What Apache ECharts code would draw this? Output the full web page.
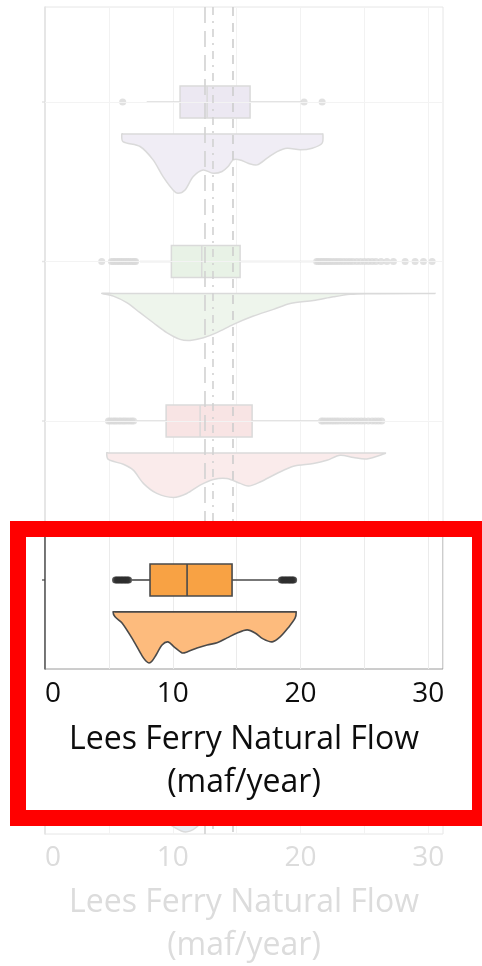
<!DOCTYPE html>
<html>
<head>
<meta charset="utf-8">
<script src="https://cdn.jsdelivr.net/npm/echarts@6/dist/echarts.min.js"></script>
<style>
html,body{margin:0;padding:0;background:#fff;}
#chart{width:482px;height:966px;}
</style>
</head>
<body>
<div id="chart"></div>
<script>
// ---------- data ----------
const xTicks = [0, 10, 20, 30];
const refLines = [12.53, 13.16, 14.72];

// box stats: [lower whisker, Q1, median, Q3, upper whisker]
const boxPurple = [7.96, 10.57, 12.69, 16.05, 20.1];
const boxGreen  = [7.44, 9.89, 12.27, 15.27, 20.99];
const boxRed    = [7.18, 9.48, 12.14, 16.21, 21.4];
const boxOrange = [6.81, 8.22, 11.12, 14.64, 18.25];

// outliers
const outPurple = [6.08, 20.28, 21.69];
const outGreen  = [4.44, 5.2, 5.35, 5.5, 5.66, 5.8, 5.95, 6.1, 6.26, 6.4, 6.55, 6.7, 6.86, 7.0, 7.09,
  21.26, 21.4, 21.55, 21.7, 21.85, 22.0, 22.15, 22.3, 22.5, 22.7, 22.9, 23.1, 23.35, 23.6, 23.85,
  24.1, 24.4, 24.7, 25.0, 25.3, 25.6, 25.9, 26.3, 26.76, 27.27, 28.19, 28.97, 29.62, 30.3];
const outRed    = [4.97, 5.12, 5.3, 5.45, 5.6, 5.78, 5.92, 6.1, 6.25, 6.42, 6.6, 6.78, 6.93,
  21.65, 21.8, 22.0, 22.2, 22.4, 22.6, 22.8, 23.0, 23.25, 23.5, 23.75, 24.0, 24.25, 24.5, 24.75,
  25.0, 25.3, 25.6, 25.85, 26.1, 26.35];
const outOrange = [5.52, 5.63, 5.74, 5.86, 5.97, 6.08, 6.2, 6.31, 6.43, 6.54,
  18.5, 18.6, 18.71, 18.82, 18.93, 19.04, 19.15, 19.25, 19.36, 19.46];

// half-violin profiles: [x, depth below the violin's top edge (row units)]
const violinPurple = [[6.01,0],[6.1,0.048],[7.44,0.079],[8.46,0.163],[9.24,0.268],[10.02,0.351],[10.41,0.372],
  [10.96,0.351],[11.59,0.268],[12.37,0.226],[13.16,0.247],[13.86,0.236],[14.33,0.205],[14.72,0.163],
  [15.27,0.163],[15.9,0.184],[16.6,0.194],[17.38,0.152],[18.17,0.111],[18.95,0.09],[19.97,0.1],
  [20.91,0.09],[21.69,0.058],[21.75,0]];
const violinGreen = [[4.44,0],[5.35,0.017],[6.4,0.058],[7.44,0.121],[8.48,0.184],[9.53,0.246],[10.57,0.288],
  [11.35,0.295],[12.4,0.278],[13.45,0.246],[14.75,0.194],[16.31,0.142],[17.88,0.1],[19.19,0.063],
  [21.01,0.044],[22.58,0.021],[23.88,0.006],[25.19,0.002],[30.54,0]];
const violinRed = [[4.83,0],[4.96,0.041],[6.13,0.071],[6.91,0.108],[7.7,0.191],[8.75,0.254],[10.05,0.279],
  [11.1,0.254],[12.14,0.202],[13.18,0.166],[14.23,0.16],[15.27,0.191],[15.92,0.208],[16.84,0.182],
  [18.14,0.129],[19.44,0.083],[21.01,0.066],[22.06,0.046],[23.1,0.014],[24.15,0.029],[25.19,0.038],
  [26.62,0.004],[26.65,0]];
const violinOrange = [[5.33,0],[5.48,0.031],[6.03,0.069],[6.89,0.175],[7.6,0.276],[7.88,0.306],[8.14,0.32],
  [8.4,0.306],[8.68,0.272],[9.16,0.207],[9.63,0.188],[10.1,0.219],[10.73,0.257],[11.12,0.251],[11.9,0.226],
  [12.69,0.207],[13.47,0.194],[14.25,0.163],[15.04,0.132],[15.82,0.113],[16.44,0.132],[17.07,0.169],
  [17.78,0.188],[18.4,0.157],[19.03,0.1],[19.58,0.038],[19.66,0]];
// fifth (blue) row: only the bottom tip shows below the highlight frame
const violinBlue = [[5.0,0],[7.0,0.1],[9.0,0.28],[10.2,0.35],[11.0,0.376],[11.8,0.35],[13.0,0.25],
  [15.0,0.12],[20.0,0.03],[24.0,0]];

// ---------- styling ----------
const FONT = 'Open Sans';
const BOX_H = 0.1, VIOLIN_TOP = 0.2;

const faded = {
  boxFill: ['#ECE8F2', '#E8F2E6', '#F8E4E4', '#FCE9D6'],
  violinFill: ['#F0EDF5', '#EEF5EC', '#FAEBEB', '#FDEEDD', '#E8EDF3'],
  stroke: '#dadada', dot: '#d9d9d9', text: '#dcdcdc', split: '#f2f2f2', frame: '#e6e6e6',
  ref: ['#d2d2d2', '#d2d2d2', '#cdcdcd'], row: '#f3f3f3'
};
const bright = {
  boxFill: '#F8A244', violinFill: '#FDBB7D', stroke: '#4a4a4a', dot: '#2e2e2e',
  text: '#0d0d0d', split: '#ebebeb', frame: '#9a9a9a', ref: ['#8a8a8a', '#444444', '#333333'], row: '#e6e6e6'
};

function boxRenderer(fills, stroke, lw) {
  return function (params, api) {
    const row = api.value(0);
    const wlo = api.value(1), q1 = api.value(2), med = api.value(3), q3 = api.value(4), whi = api.value(5);
    const a = api.coord([q1, row - BOX_H]);
    const b = api.coord([q3, row + BOX_H]);
    const w1 = api.coord([wlo, row]);
    const w2 = api.coord([whi, row]);
    const m = api.coord([med, row]);
    const top = Math.min(a[1], b[1]), h = Math.abs(b[1] - a[1]);
    const ls = { stroke: stroke, lineWidth: lw };
    return { type: 'group', children: [
      { type: 'line', shape: { x1: w1[0], y1: w1[1], x2: a[0], y2: w1[1] }, style: ls },
      { type: 'line', shape: { x1: b[0], y1: w2[1], x2: w2[0], y2: w2[1] }, style: ls },
      { type: 'rect', shape: { x: a[0], y: top, width: b[0] - a[0], height: h },
        style: { fill: fills[params.dataIndex % fills.length], stroke: stroke, lineWidth: lw } },
      { type: 'line', shape: { x1: m[0], y1: top, x2: m[0], y2: top + h }, style: ls }
    ]};
  };
}

function violinRenderer(profiles, fills, stroke, lw) {
  return function (params, api) {
    const row = api.value(0);
    const prof = profiles[params.dataIndex];
    const base = row + VIOLIN_TOP;
    const pts = prof.map(p => api.coord([p[0], base + p[1]]));
    for (let i = prof.length - 2; i >= 1; i--) pts.push(api.coord([prof[i][0], base]));
    return { type: 'polygon', shape: { points: pts, smooth: 0.3 },
      style: { fill: fills[params.dataIndex % fills.length], stroke: stroke, lineWidth: lw } };
  };
}

function scatterData(list, row) { return list.map(v => [v, row]); }

function xAxisFor(gridIndex, c, margin, nameGap, zl) {
  return {
    type: 'value', gridIndex: gridIndex, min: 0, max: 31.15, interval: 5, zlevel: zl,
    axisLine: { show: false }, axisTick: { show: false },
    splitLine: { show: true, lineStyle: { color: c.split, width: 1 } },
    axisLabel: { color: c.text, fontSize: 28, fontFamily: FONT, margin: margin, alignMinLabel: 'left',
      formatter: v => (xTicks.indexOf(Math.round(v * 100) / 100) >= 0 ? String(v) : '') },
    name: 'Lees Ferry Natural Flow\n(maf/year)', nameLocation: 'middle', nameGap: nameGap,
    nameTextStyle: { color: c.text, fontSize: 32, fontFamily: FONT, lineHeight: 43 }
  };
}

const bgRows = [0, 1, 2, 3];
const bgBoxes = [boxPurple, boxGreen, boxRed, boxOrange];
const bgOut = [outPurple, outGreen, outRed, outOrange];
const bgViolins = [violinPurple, violinGreen, violinRed, violinOrange, violinBlue];

const option = {
  backgroundColor: '#ffffff',
  animation: false,
  grid: [
    { left: 45, right: 39, top: 7, bottom: 132, show: true, borderColor: faded.frame, borderWidth: 1,
      containLabel: false, outerBoundsMode: 'none', zlevel: 0 },
    { left: 45, right: 39, top: 529, bottom: 297, show: true, borderColor: bright.frame, borderWidth: 1,
      containLabel: false, outerBoundsMode: 'none', zlevel: 2 }
  ],
  xAxis: [ xAxisFor(0, faded, 10, 47, 0), xAxisFor(1, bright, 11, 49, 2) ],
  yAxis: [
    { type: 'value', gridIndex: 0, inverse: true, min: -0.5956, max: 4.589, zlevel: 0,
      axisLine: { show: true, lineStyle: { color: '#e2e2e2', width: 1.5 } }, axisTick: { show: false },
      axisLabel: { show: false }, splitLine: { show: false } },
    { type: 'value', gridIndex: 1, inverse: true, min: -0.3197, max: 0.558, zlevel: 2,
      axisLine: { show: true, lineStyle: { color: '#555555', width: 1.5 } }, axisTick: { show: false },
      axisLabel: { show: false }, splitLine: { show: false } }
  ],
  graphic: [
    { type: 'rect', zlevel: 1, z: 1, shape: { x: 26, y: 537, width: 446, height: 273 },
      style: { fill: '#ffffff' }, silent: true },
    { type: 'rect', zlevel: 3, z: 1, shape: { x: 18, y: 529, width: 462, height: 289 },
      style: { fill: 'none', stroke: '#ff0000', lineWidth: 16 }, silent: true }
  ],
  series: [
    // ---------- faded background chart ----------
    { type: 'scatter', xAxisIndex: 0, yAxisIndex: 0, zlevel: 0, z: 1, clip: false,
      symbol: 'rect', symbolSize: [3, 1.5], symbolOffset: [-1.5, 0],
      itemStyle: { color: '#dddddd' }, data: bgRows.concat([4]).map(r => [0, r]),
      markLine: { silent: true, symbol: 'none', label: { show: false },
        lineStyle: { color: faded.row, width: 1, type: 'solid' },
        data: bgRows.concat([4]).map(r => ({ yAxis: r })) } },
    { type: 'custom', xAxisIndex: 0, yAxisIndex: 0, zlevel: 0, z: 2,
      renderItem: violinRenderer(bgViolins, faded.violinFill, faded.stroke, 1.5),
      data: [[0, violinPurple[0][0]], [1, violinGreen[0][0]], [2, violinRed[0][0]], [3, violinOrange[0][0]], [4, violinBlue[0][0]]] },
    { type: 'custom', xAxisIndex: 0, yAxisIndex: 0, zlevel: 0, z: 3,
      renderItem: boxRenderer(faded.boxFill, faded.stroke, 1.5),
      encode: { x: [1, 2, 3, 4, 5], y: 0 },
      data: bgBoxes.map((b, i) => [bgRows[i]].concat(b)) },
    { type: 'scatter', xAxisIndex: 0, yAxisIndex: 0, zlevel: 0, z: 4, symbolSize: 7,
      itemStyle: { color: faded.dot },
      data: [].concat(...bgOut.map((o, i) => scatterData(o, bgRows[i]))),
      markLine: { silent: true, symbol: 'none', label: { show: false },
        data: refLines.map((v, i) => ({ xAxis: v, lineStyle: { color: faded.ref[i], width: 1.6,
          type: i === 0 ? [16, 8] : (i === 1 ? [8, 6, 2, 6] : [9, 7]) } })) } },

    // ---------- highlighted panel ----------
    { type: 'scatter', xAxisIndex: 1, yAxisIndex: 1, zlevel: 2, z: 1, clip: false,
      symbol: 'rect', symbolSize: [3, 1.5], symbolOffset: [-1.5, 0],
      itemStyle: { color: '#444444' }, data: [[0, 0]],
      markLine: { silent: true, symbol: 'none', label: { show: false },
        lineStyle: { color: bright.row, width: 1.2, type: 'solid' }, data: [{ yAxis: 0 }] } },
    { type: 'custom', xAxisIndex: 1, yAxisIndex: 1, zlevel: 2, z: 2,
      renderItem: violinRenderer([violinOrange], [bright.violinFill], bright.stroke, 1.6),
      data: [[0, violinOrange[0][0]]] },
    { type: 'custom', xAxisIndex: 1, yAxisIndex: 1, zlevel: 2, z: 3,
      renderItem: boxRenderer([bright.boxFill], bright.stroke, 1.6),
      encode: { x: [1, 2, 3, 4, 5], y: 0 },
      data: [[0].concat(boxOrange)] },
    { type: 'scatter', xAxisIndex: 1, yAxisIndex: 1, zlevel: 2, z: 4, symbolSize: 7,
      itemStyle: { color: bright.dot },
      data: scatterData(outOrange, 0),
      markLine: { silent: true, symbol: 'none', label: { show: false },
        data: refLines.map((v, i) => ({ xAxis: v, lineStyle: { color: bright.ref[i], width: 1.6,
          type: i === 0 ? [16, 8] : (i === 1 ? [8, 6, 2, 6] : [9, 7]) } })) } }
  ]
};

const chart = echarts.init(document.getElementById('chart'), null, { renderer: 'canvas' });
chart.setOption(option);
</script>
</body>
</html>
